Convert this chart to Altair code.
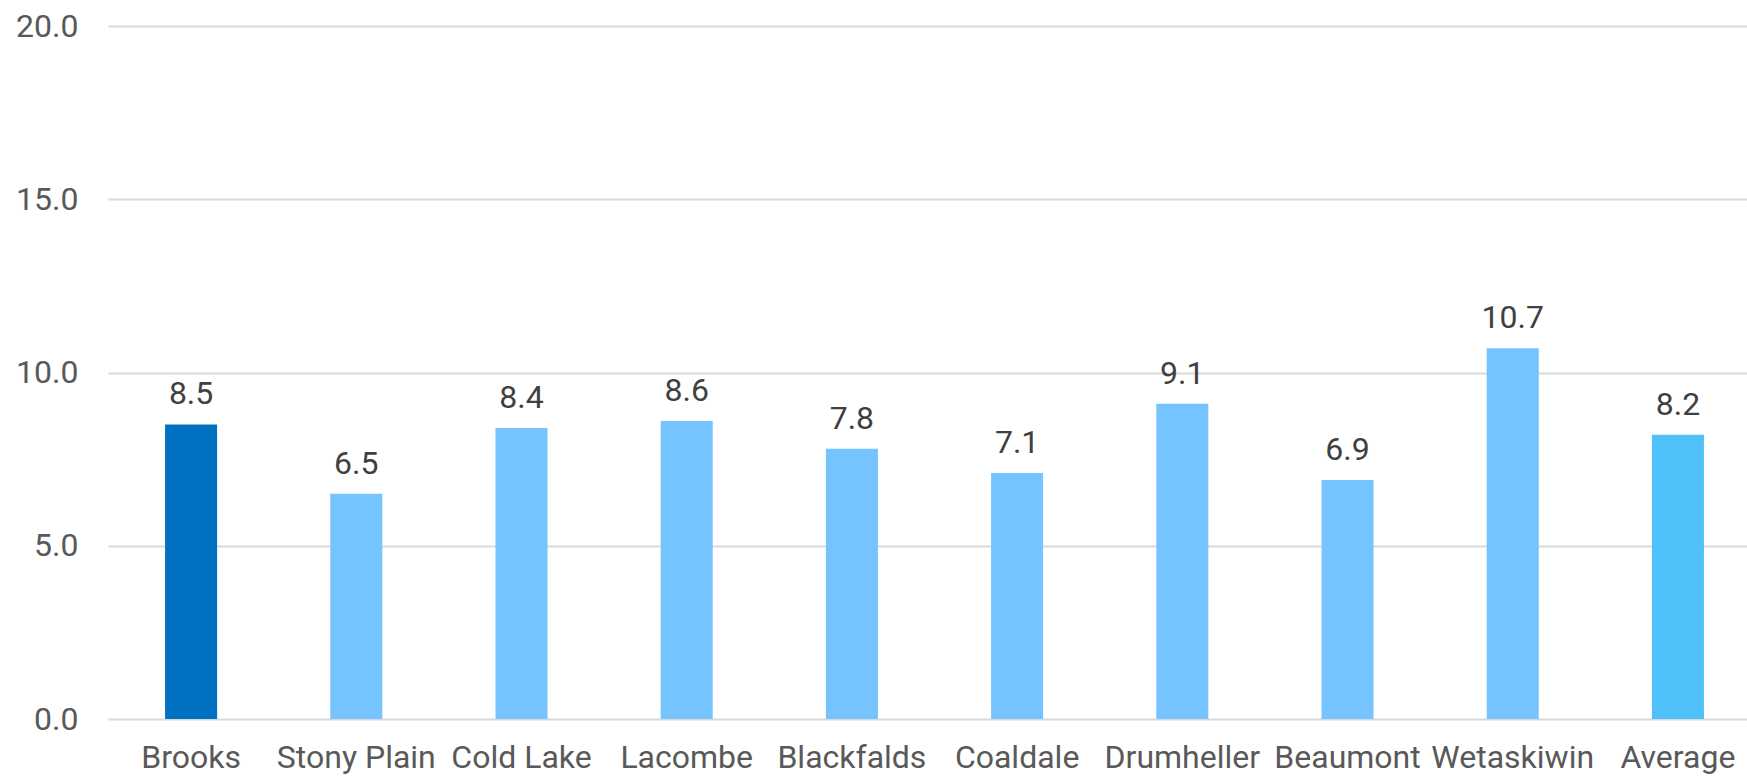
import altair as alt
import pandas as pd

towns = ["Brooks", "Stony Plain", "Cold Lake", "Lacombe", "Blackfalds",
         "Coaldale", "Drumheller", "Beaumont", "Wetaskiwin", "Average"]
values = [8.5, 6.5, 8.4, 8.6, 7.8, 7.1, 9.1, 6.9, 10.7, 8.2]
groups = ["Brooks", "Other", "Other", "Other", "Other",
          "Other", "Other", "Other", "Other", "Average"]
y_ticks = [0, 5, 10, 15, 20]

group_domain = ["Brooks", "Other", "Average"]
group_colors = ["#0070C0", "#75C4FF", "#4FC1F8"]

df = pd.DataFrame({"town": towns, "value": values, "group": groups})

FONT = "Roboto"

x = alt.X("town:N", sort=towns, title=None,
          scale=alt.Scale(paddingInner=0.685, paddingOuter=0.303, align=0.57),
          axis=alt.Axis(labelAngle=0, labelFont=FONT, labelFontSize=32,
                        labelColor="#595959", ticks=False, domain=False,
                        labelPadding=23, grid=False))
y = alt.Y("value:Q", title=None,
          scale=alt.Scale(domain=[0, 20], nice=False),
          axis=alt.Axis(values=y_ticks, format=".1f", labelFont=FONT,
                        labelFontSize=32, labelColor="#595959", ticks=False,
                        domain=False, labelPadding=30, gridColor="#D9D9D9",
                        gridWidth=2))

bars = alt.Chart(df).mark_bar().encode(
    x=x, y=y,
    color=alt.Color("group:N", scale=alt.Scale(domain=group_domain, range=group_colors),
                    legend=None),
)

labels = alt.Chart(df).mark_text(
    font=FONT, fontSize=32, color="#404040", baseline="alphabetic", dy=-20
).encode(
    x=alt.X("town:N", sort=towns),
    y=alt.Y("value:Q"),
    text=alt.Text("value:Q", format=".1f"),
)

chart = (bars + labels).properties(
    width=1639, height=693,
    background="white",
    autosize=alt.AutoSizeParams(type="none"),
    padding={"left": 108, "top": 26, "right": 0, "bottom": 59},
).configure_view(
    stroke=None, strokeWidth=0
).configure_axisX(
    grid=False, domain=False
).configure_axisY(
    domain=False
)

chart.save("out.html", embed_options={"renderer": "svg", "actions": False})
